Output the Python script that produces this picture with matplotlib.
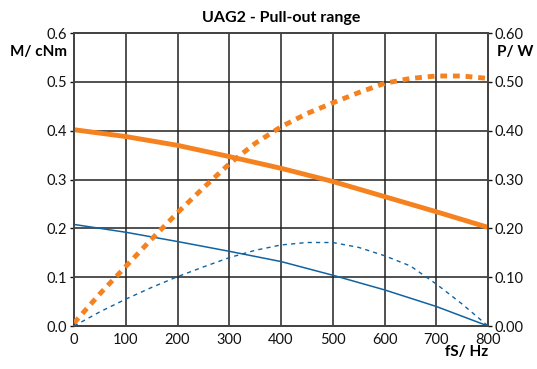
import numpy as np
import matplotlib.pyplot as plt

plt.rcParams['font.family'] = ['Lato', 'DejaVu Sans']

# torque curves (left axis), read every 100 Hz
freq = [0, 100, 200, 300, 400, 500, 600, 700, 800]
torque_big = [0.402, 0.388, 0.370, 0.347, 0.323, 0.296, 0.265, 0.234, 0.202]
torque_small = [0.208, 0.192, 0.173, 0.153, 0.132, 0.104, 0.074, 0.040, 0.0]

# power curves (right axis), read every 50 Hz
freq_p = [0, 50, 100, 150, 200, 250, 300, 350, 400, 450, 500, 550, 600, 650, 700, 750, 800]
power_big = [0.006, 0.066, 0.122, 0.178, 0.232, 0.283, 0.332, 0.374, 0.408, 0.435,
             0.457, 0.478, 0.497, 0.507, 0.512, 0.512, 0.507]
power_small = [0.0, 0.029, 0.055, 0.079, 0.101, 0.121, 0.140, 0.155, 0.166, 0.171,
               0.171, 0.161, 0.144, 0.123, 0.086, 0.045, 0.0]

orange = '#f5821f'
blue = '#1063a0'

fig = plt.figure(figsize=(5.37, 3.69), dpi=100)
ax = fig.add_axes([0.1378, 0.1165, 0.771, 0.794])
ax2 = ax.twinx()

ax.plot(freq, torque_big, color=orange, lw=3.5, zorder=3)
ax.plot(freq, torque_small, color=blue, lw=1.1, zorder=3)
ax2.plot(freq_p, power_big, color=orange, lw=3.5, ls=(0, (1.4, 1.2)), zorder=3)
ax2.plot(freq_p, power_small, color=blue, lw=1.0, ls=(0, (3, 3)), zorder=3)

ax.set_xlim(0, 800)
ax.set_ylim(0, 0.6)
ax2.set_ylim(0, 0.6)
ax.set_xticks(freq)
ax.set_yticks(np.arange(0, 0.61, 0.1))
ax2.set_yticks(np.arange(0, 0.61, 0.1))
ax.set_yticklabels(['0.0', '0.1', '0.2', '0.3', '0.4', '0.5', '0.6'])
ax2.set_yticklabels(['0.00', '0.10', '0.20', '0.30', '0.40', '0.50', '0.60'])

ax.grid(True, color='#222222', lw=1.1)
ax.set_axisbelow(True)
for a in (ax, ax2):
    for s in a.spines.values():
        s.set_color('#444444')
        s.set_linewidth(1.3)
    a.tick_params(labelsize=10.5, length=3, width=1, colors='#111111', pad=2)
ax.tick_params(axis='x', length=0, pad=5)

ax.set_title('UAG2 - Pull-out range', fontsize=11.5, fontweight='bold', pad=8)
fig.text(0.125, 0.858, 'M/ cNm', ha='right', va='center', fontsize=11, fontweight='bold')
fig.text(0.925, 0.858, 'P/ W', ha='left', va='center', fontsize=11, fontweight='bold')
fig.text(0.91, 0.045, 'fS/ Hz', ha='right', va='center', fontsize=11, fontweight='bold')

fig.savefig('out.png', dpi=100)
